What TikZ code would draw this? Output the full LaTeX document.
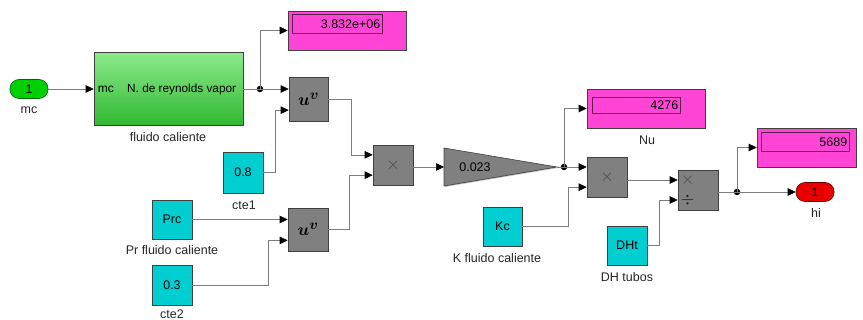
\documentclass[tikz,border=0pt]{standalone}
\usepackage{bm}
\usepackage{fontspec}
\setmainfont{Liberation Sans}
\usetikzlibrary{arrows.meta,calc,shadows}

\definecolor{blkgray}{RGB}{128,128,128}
\definecolor{dispmag}{RGB}{255,68,214}
\definecolor{dispedge}{RGB}{90,30,80}
\definecolor{constcyan}{RGB}{0,206,209}
\definecolor{portgreen}{RGB}{0,208,0}
\definecolor{portred}{RGB}{232,0,0}
\definecolor{subtop}{RGB}{140,234,140}
\definecolor{subbot}{RGB}{48,184,48}
\definecolor{wire}{RGB}{125,125,125}

\tikzset{
  every node/.style={font=\fontsize{12.5}{14}\selectfont, inner sep=0pt},
  shade1/.style={drop shadow={shadow xshift=1pt, shadow yshift=-1pt, opacity=0.45}},
  blk/.style={draw=black!75, line width=0.6pt, shade1},
  gblk/.style={blk, fill=blkgray, minimum width=40pt, minimum height=40pt},
  cst/.style={blk, fill=constcyan, minimum width=40pt, minimum height=40pt},
  disp/.style={blk, fill=dispmag},
  dispin/.style={draw=dispedge, line width=0.5pt, fill=dispmag, anchor=north west},
  inport/.style={draw=black!60!green, fill=portgreen, line width=0.6pt, rounded corners=9pt,
                 minimum width=38pt, minimum height=19pt},
  outport/.style={draw=black!60!red, fill=portred, line width=0.6pt, rounded corners=9pt,
                  minimum width=38pt, minimum height=19pt},
  lbl/.style={text=black!85},
  sig/.style={draw=wire, line width=0.6pt, -{Triangle[length=8pt, width=7.5pt, color=black]}},
  wireline/.style={draw=wire, line width=0.6pt},
  jdot/.style={circle, fill=black, minimum size=6.5pt},
  opsym/.style={text=black!72, font=\fontsize{17}{17}\selectfont},
  divsym/.style={text=black!90, font=\fontsize{17}{17}\selectfont},
  powsym/.style={font=\fontsize{19}{19}\selectfont}
}

\begin{document}
\begin{tikzpicture}[x=1pt, y=-1pt]
\useasboundingbox (0,0) rectangle (863,320);

% ---- input port and subsystem ----
\node[inport] (inMc) at (29,89) {1};
\node[lbl] (lblMc) at (29,110) {mc};

\node[blk, top color=subtop, bottom color=subbot, minimum width=149pt, minimum height=73pt] (fc) at (168.5,89) {};
\node[anchor=west, font=\fontsize{12}{14}\selectfont] (fcIn) at ($(fc.west)+(4,0)$) {mc};
\node[anchor=east, font=\fontsize{11.8}{14}\selectfont] (fcOut) at ($(fc.east)+(-7,0)$) {N. de reynolds vapor};
\node[lbl] (lblFc) at (168,137) {fluido caliente};

% ---- Reynolds display ----
\node[disp, minimum width=118pt, minimum height=39pt] (d1) at (347,30.5) {};
\node[dispin, minimum width=90pt, minimum height=19pt] (d1v) at (292,14) {};
\node[anchor=east] (d1t) at ($(d1v.east)+(-2,0)$) {3.832e+06};

% ---- power blocks ----
\node[gblk, minimum width=39pt, minimum height=44pt] (uv1) at (308.5,99) {};
\node[powsym] (uv1s) at (uv1.center) {$\bm{u}^{\bm{v}}$};
\node[gblk, minimum width=40pt, minimum height=43pt] (uv2) at (308,229.5) {};
\node[powsym] (uv2s) at (uv2.center) {$\bm{u}^{\bm{v}}$};

% ---- constants ----
\node[cst, minimum height=41pt] (cte1) at (243,172.5) {0.8};
\node[lbl] (lblCte1) at (244,205) {cte1};
\node[cst, minimum height=39pt] (prc) at (172,219.5) {Prc};
\node[lbl] (lblPrc) at (172,250) {Pr fluido caliente};
\node[cst] (cte2) at (172,285) {0.3};
\node[lbl] (lblCte2) at (172,314) {cte2};

% ---- first product ----
\node[gblk] (prod1) at (393,165) {};
\node[opsym] (prod1x) at (prod1.center) {$\times$};

% ---- gain ----
\coordinate (gIn) at (444,167);
\coordinate (gOut) at (557,167);
\path[blk, fill=blkgray] (444,148) -- (gOut) -- (444,186) -- cycle;
\node (gTxt) at (475,167) {0.023};

% ---- Nusselt display ----
\node[disp, minimum width=118pt, minimum height=39pt] (d2) at (646,108.5) {};
\node[dispin, minimum width=88pt, minimum height=16pt] (d2v) at (592,97) {};
\node[anchor=east] (d2t) at ($(d2v.east)+(-2,0)$) {4276};
\node[lbl] (lblNu) at (647,140) {Nu};

% ---- second product and conductivity ----
\node[gblk] (prod2) at (607,177) {};
\node[opsym] (prod2x) at (prod2.center) {$\times$};
\node[cst, minimum width=39pt, minimum height=39pt] (kc) at (502.5,226.5) {Kc};
\node[lbl] (lblKc) at (497,258) {K fluido caliente};

% ---- divide block and diameter ----
\node[gblk] (prod3) at (698,190) {};
\node[opsym] (prod3x) at ($(prod3.west)+(10,-10)$) {$\times$};
\node[divsym] (prod3d) at ($(prod3.west)+(10,10)$) {$\div$};
\node[cst, minimum height=39pt] (dht) at (627,245.5) {DHt};
\node[lbl] (lblDht) at (627,277) {DH tubos};

% ---- output display and port ----
\node[disp, minimum width=99pt, minimum height=39pt] (d3) at (806.5,147.5) {};
\node[dispin, minimum width=88pt, minimum height=19pt] (d3v) at (761,132) {};
\node[anchor=east] (d3t) at ($(d3v.east)+(-2,0)$) {5689};
\node[outport] (hi) at (815,192) {1};
\node[lbl] (lblHi) at (816,213) {hi};

% ---- junctions ----
\node[jdot] (j1) at (260,89) {};
\node[jdot] (j2) at (564,167) {};
\node[jdot] (j3) at (737,192) {};

% ---- signal lines ----
\draw[sig] (inMc.east) -- (fc.west);
\draw[wireline] (fc.east) -- (j1.center);
\draw[sig] (j1.center) -- (uv1.west |- j1);
\draw[sig] (j1.center) |- (d1.west);
\draw[sig] (cte1.east) -- ++(12,0) |- ($(uv1.north west)!0.75!(uv1.south west)$);
\draw[sig] (uv1.east) -- ++(23,0) |- ($(prod1.north west)!0.25!(prod1.south west)$);
\draw[sig] (prc.east) -- (prc.east -| uv2.west);
\draw[sig] (cte2.east) -- ++(76,0) |- ($(uv2.north west)!0.75!(uv2.south west)$);
\draw[sig] (uv2.east) -- ++(21,0) |- ($(prod1.north west)!0.75!(prod1.south west)$);
\draw[sig] (prod1.east |- gIn) -- (gIn);
\draw[wireline] (gOut) -- (j2.center);
\draw[sig] (j2.center) -- (prod2.west |- j2);
\draw[sig] (j2.center) |- (d2.west);
\draw[sig] (kc.east) -- ++(46,0) |- ($(prod2.north west)!0.75!(prod2.south west)$);
\draw[sig] (prod2.east |- prod3x) -- (prod3.west |- prod3x);
\draw[sig] (dht.east) -- ++(12,0) |- (prod3.west |- prod3d);
\draw[wireline] (prod3.east |- j3) -- (j3.center);
\draw[sig] (j3.center) -- (hi.west);
\draw[sig] (j3.center) |- (d3.west);
\end{tikzpicture}
\end{document}
